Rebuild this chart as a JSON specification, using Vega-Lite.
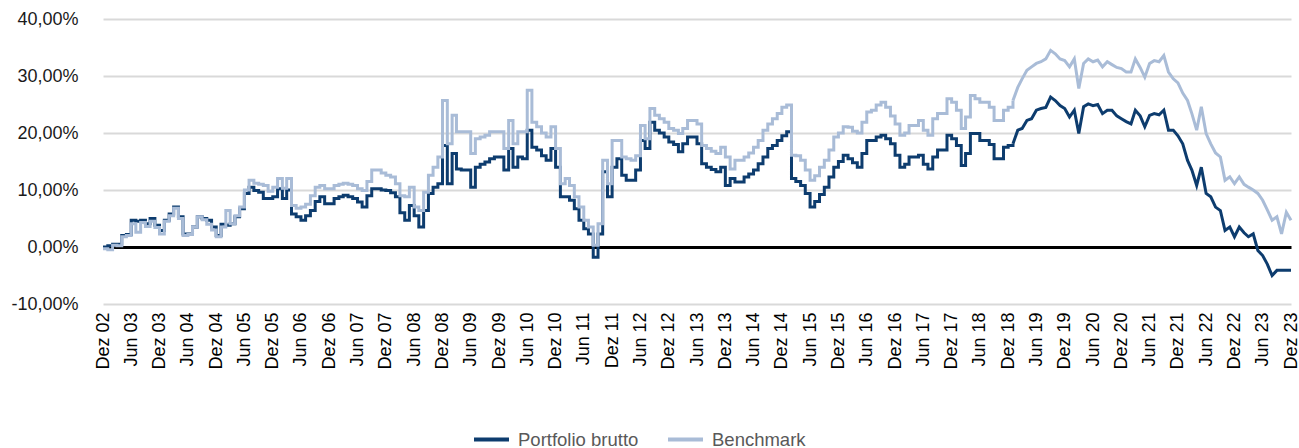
{
"$schema":"https://vega.github.io/schema/vega-lite/v6.json",
"width":1188,"height":285,
"autosize":{"type":"none"},
"padding":{"left":103,"top":19,"right":8,"bottom":144},
"background":"white",
"config":{"view":{"stroke":null},"font":"Liberation Sans","axis":{"labelOverlap":false}},
"data":{"format":{"parse":{"d":"date"}},"values":[
{"d":"2002-12-01","Portfolio brutto":0,"Benchmark":-0.3},
{"d":"2003-01-01","Portfolio brutto":0.2,"Benchmark":-0.5},
{"d":"2003-02-01","Portfolio brutto":0.5,"Benchmark":0.3},
{"d":"2003-03-01","Portfolio brutto":0.5,"Benchmark":0.2},
{"d":"2003-04-01","Portfolio brutto":2.0,"Benchmark":1.8},
{"d":"2003-05-01","Portfolio brutto":2.2,"Benchmark":2.0},
{"d":"2003-06-01","Portfolio brutto":4.7,"Benchmark":4.1},
{"d":"2003-07-01","Portfolio brutto":4.5,"Benchmark":2.6},
{"d":"2003-08-01","Portfolio brutto":4.7,"Benchmark":4.3},
{"d":"2003-09-01","Portfolio brutto":4.1,"Benchmark":3.6},
{"d":"2003-10-01","Portfolio brutto":5.0,"Benchmark":4.5},
{"d":"2003-11-01","Portfolio brutto":3.8,"Benchmark":3.4},
{"d":"2003-12-01","Portfolio brutto":2.9,"Benchmark":2.3},
{"d":"2004-01-01","Portfolio brutto":4.7,"Benchmark":4.5},
{"d":"2004-02-01","Portfolio brutto":5.8,"Benchmark":5.5},
{"d":"2004-03-01","Portfolio brutto":7.0,"Benchmark":6.8},
{"d":"2004-04-01","Portfolio brutto":5.3,"Benchmark":5.0},
{"d":"2004-05-01","Portfolio brutto":2.3,"Benchmark":2.0},
{"d":"2004-06-01","Portfolio brutto":2.3,"Benchmark":2.2},
{"d":"2004-07-01","Portfolio brutto":3.5,"Benchmark":3.5},
{"d":"2004-08-01","Portfolio brutto":5.3,"Benchmark":5.3},
{"d":"2004-09-01","Portfolio brutto":5.0,"Benchmark":4.8},
{"d":"2004-10-01","Portfolio brutto":4.7,"Benchmark":4.0},
{"d":"2004-11-01","Portfolio brutto":3.5,"Benchmark":3.0},
{"d":"2004-12-01","Portfolio brutto":2.0,"Benchmark":1.8},
{"d":"2005-01-01","Portfolio brutto":4.0,"Benchmark":3.5},
{"d":"2005-02-01","Portfolio brutto":3.8,"Benchmark":6.4},
{"d":"2005-03-01","Portfolio brutto":4.1,"Benchmark":4.1},
{"d":"2005-04-01","Portfolio brutto":5.3,"Benchmark":5.5},
{"d":"2005-05-01","Portfolio brutto":6.7,"Benchmark":7.0},
{"d":"2005-06-01","Portfolio brutto":9.4,"Benchmark":10.0},
{"d":"2005-07-01","Portfolio brutto":10.5,"Benchmark":11.7},
{"d":"2005-08-01","Portfolio brutto":9.9,"Benchmark":11.2},
{"d":"2005-09-01","Portfolio brutto":9.6,"Benchmark":11.0},
{"d":"2005-10-01","Portfolio brutto":8.5,"Benchmark":10.8},
{"d":"2005-11-01","Portfolio brutto":8.5,"Benchmark":9.8},
{"d":"2005-12-01","Portfolio brutto":8.8,"Benchmark":10.5},
{"d":"2006-01-01","Portfolio brutto":10.2,"Benchmark":12.0},
{"d":"2006-02-01","Portfolio brutto":8.5,"Benchmark":10.3},
{"d":"2006-03-01","Portfolio brutto":10.0,"Benchmark":12.0},
{"d":"2006-04-01","Portfolio brutto":5.8,"Benchmark":7.3},
{"d":"2006-05-01","Portfolio brutto":5.3,"Benchmark":6.8},
{"d":"2006-06-01","Portfolio brutto":4.7,"Benchmark":7.0},
{"d":"2006-07-01","Portfolio brutto":5.5,"Benchmark":7.5},
{"d":"2006-08-01","Portfolio brutto":6.4,"Benchmark":9.0},
{"d":"2006-09-01","Portfolio brutto":8.0,"Benchmark":10.5},
{"d":"2006-10-01","Portfolio brutto":8.8,"Benchmark":10.8},
{"d":"2006-11-01","Portfolio brutto":7.6,"Benchmark":10.2},
{"d":"2006-12-01","Portfolio brutto":7.6,"Benchmark":10.2},
{"d":"2007-01-01","Portfolio brutto":8.5,"Benchmark":10.8},
{"d":"2007-02-01","Portfolio brutto":8.8,"Benchmark":11.0},
{"d":"2007-03-01","Portfolio brutto":9.1,"Benchmark":11.2},
{"d":"2007-04-01","Portfolio brutto":8.8,"Benchmark":11.0},
{"d":"2007-05-01","Portfolio brutto":8.5,"Benchmark":10.8},
{"d":"2007-06-01","Portfolio brutto":7.9,"Benchmark":10.2},
{"d":"2007-07-01","Portfolio brutto":7.0,"Benchmark":9.9},
{"d":"2007-08-01","Portfolio brutto":9.0,"Benchmark":11.5},
{"d":"2007-09-01","Portfolio brutto":10.2,"Benchmark":13.5},
{"d":"2007-10-01","Portfolio brutto":10.2,"Benchmark":13.5},
{"d":"2007-11-01","Portfolio brutto":10.0,"Benchmark":13.0},
{"d":"2007-12-01","Portfolio brutto":9.9,"Benchmark":12.6},
{"d":"2008-01-01","Portfolio brutto":9.5,"Benchmark":12.3},
{"d":"2008-02-01","Portfolio brutto":8.8,"Benchmark":11.1},
{"d":"2008-03-01","Portfolio brutto":6.0,"Benchmark":9.0},
{"d":"2008-04-01","Portfolio brutto":4.7,"Benchmark":8.8},
{"d":"2008-05-01","Portfolio brutto":7.3,"Benchmark":10.5},
{"d":"2008-06-01","Portfolio brutto":5.5,"Benchmark":7.0},
{"d":"2008-07-01","Portfolio brutto":3.5,"Benchmark":6.4},
{"d":"2008-08-01","Portfolio brutto":6.4,"Benchmark":9.6},
{"d":"2008-09-01","Portfolio brutto":9.4,"Benchmark":12.6},
{"d":"2008-10-01","Portfolio brutto":10.5,"Benchmark":14.0},
{"d":"2008-11-01","Portfolio brutto":11.1,"Benchmark":15.8},
{"d":"2008-12-01","Portfolio brutto":17.8,"Benchmark":25.7},
{"d":"2009-01-01","Portfolio brutto":11.1,"Benchmark":18.1},
{"d":"2009-02-01","Portfolio brutto":16.4,"Benchmark":23.1},
{"d":"2009-03-01","Portfolio brutto":13.7,"Benchmark":20.2},
{"d":"2009-04-01","Portfolio brutto":13.5,"Benchmark":20.2},
{"d":"2009-05-01","Portfolio brutto":13.5,"Benchmark":20.2},
{"d":"2009-06-01","Portfolio brutto":10.5,"Benchmark":16.4},
{"d":"2009-07-01","Portfolio brutto":14.0,"Benchmark":19.0},
{"d":"2009-08-01","Portfolio brutto":14.5,"Benchmark":19.3},
{"d":"2009-09-01","Portfolio brutto":14.9,"Benchmark":19.6},
{"d":"2009-10-01","Portfolio brutto":15.5,"Benchmark":20.2},
{"d":"2009-11-01","Portfolio brutto":15.8,"Benchmark":20.2},
{"d":"2009-12-01","Portfolio brutto":15.8,"Benchmark":20.2},
{"d":"2010-01-01","Portfolio brutto":13.5,"Benchmark":17.3},
{"d":"2010-02-01","Portfolio brutto":17.3,"Benchmark":22.2},
{"d":"2010-03-01","Portfolio brutto":14.0,"Benchmark":18.1},
{"d":"2010-04-01","Portfolio brutto":15.8,"Benchmark":20.2},
{"d":"2010-05-01","Portfolio brutto":15.5,"Benchmark":20.2},
{"d":"2010-06-01","Portfolio brutto":20.5,"Benchmark":27.5},
{"d":"2010-07-01","Portfolio brutto":17.5,"Benchmark":21.9},
{"d":"2010-08-01","Portfolio brutto":17.0,"Benchmark":21.1},
{"d":"2010-09-01","Portfolio brutto":16.0,"Benchmark":20.0},
{"d":"2010-10-01","Portfolio brutto":15.2,"Benchmark":19.3},
{"d":"2010-11-01","Portfolio brutto":17.3,"Benchmark":21.1},
{"d":"2010-12-01","Portfolio brutto":14.0,"Benchmark":17.3},
{"d":"2011-01-01","Portfolio brutto":8.8,"Benchmark":11.1},
{"d":"2011-02-01","Portfolio brutto":8.8,"Benchmark":12.0},
{"d":"2011-03-01","Portfolio brutto":8.2,"Benchmark":10.8},
{"d":"2011-04-01","Portfolio brutto":6.7,"Benchmark":8.8},
{"d":"2011-05-01","Portfolio brutto":4.7,"Benchmark":7.0},
{"d":"2011-06-01","Portfolio brutto":3.2,"Benchmark":4.7},
{"d":"2011-07-01","Portfolio brutto":2.3,"Benchmark":3.5},
{"d":"2011-08-01","Portfolio brutto":-1.8,"Benchmark":0.3},
{"d":"2011-09-01","Portfolio brutto":2.3,"Benchmark":4.1},
{"d":"2011-10-01","Portfolio brutto":13.2,"Benchmark":15.2},
{"d":"2011-11-01","Portfolio brutto":8.8,"Benchmark":11.1},
{"d":"2011-12-01","Portfolio brutto":14.0,"Benchmark":18.7},
{"d":"2012-01-01","Portfolio brutto":15.5,"Benchmark":18.7},
{"d":"2012-02-01","Portfolio brutto":12.6,"Benchmark":15.8},
{"d":"2012-03-01","Portfolio brutto":11.7,"Benchmark":15.5},
{"d":"2012-04-01","Portfolio brutto":11.7,"Benchmark":15.2},
{"d":"2012-05-01","Portfolio brutto":13.5,"Benchmark":16.0},
{"d":"2012-06-01","Portfolio brutto":18.7,"Benchmark":21.3},
{"d":"2012-07-01","Portfolio brutto":17.3,"Benchmark":19.0},
{"d":"2012-08-01","Portfolio brutto":21.9,"Benchmark":24.3},
{"d":"2012-09-01","Portfolio brutto":20.5,"Benchmark":23.1},
{"d":"2012-10-01","Portfolio brutto":20.0,"Benchmark":22.5},
{"d":"2012-11-01","Portfolio brutto":19.3,"Benchmark":21.9},
{"d":"2012-12-01","Portfolio brutto":18.4,"Benchmark":20.8},
{"d":"2013-01-01","Portfolio brutto":18.0,"Benchmark":20.5},
{"d":"2013-02-01","Portfolio brutto":16.7,"Benchmark":19.9},
{"d":"2013-03-01","Portfolio brutto":18.1,"Benchmark":20.8},
{"d":"2013-04-01","Portfolio brutto":19.3,"Benchmark":22.2},
{"d":"2013-05-01","Portfolio brutto":19.3,"Benchmark":22.2},
{"d":"2013-06-01","Portfolio brutto":18.1,"Benchmark":21.6},
{"d":"2013-07-01","Portfolio brutto":14.6,"Benchmark":17.8},
{"d":"2013-08-01","Portfolio brutto":14.0,"Benchmark":17.3},
{"d":"2013-09-01","Portfolio brutto":13.6,"Benchmark":16.8},
{"d":"2013-10-01","Portfolio brutto":13.2,"Benchmark":16.4},
{"d":"2013-11-01","Portfolio brutto":14.0,"Benchmark":17.5},
{"d":"2013-12-01","Portfolio brutto":10.8,"Benchmark":15.8},
{"d":"2014-01-01","Portfolio brutto":12.0,"Benchmark":13.7},
{"d":"2014-02-01","Portfolio brutto":11.4,"Benchmark":15.2},
{"d":"2014-03-01","Portfolio brutto":11.4,"Benchmark":15.2},
{"d":"2014-04-01","Portfolio brutto":12.3,"Benchmark":15.8},
{"d":"2014-05-01","Portfolio brutto":12.8,"Benchmark":16.5},
{"d":"2014-06-01","Portfolio brutto":13.5,"Benchmark":17.5},
{"d":"2014-07-01","Portfolio brutto":14.6,"Benchmark":18.7},
{"d":"2014-08-01","Portfolio brutto":15.8,"Benchmark":20.5},
{"d":"2014-09-01","Portfolio brutto":17.3,"Benchmark":21.6},
{"d":"2014-10-01","Portfolio brutto":17.8,"Benchmark":22.5},
{"d":"2014-11-01","Portfolio brutto":18.7,"Benchmark":23.4},
{"d":"2014-12-01","Portfolio brutto":19.5,"Benchmark":24.5},
{"d":"2015-01-01","Portfolio brutto":20.2,"Benchmark":24.9},
{"d":"2015-02-01","Portfolio brutto":12.0,"Benchmark":16.1},
{"d":"2015-03-01","Portfolio brutto":11.5,"Benchmark":16.0},
{"d":"2015-04-01","Portfolio brutto":10.8,"Benchmark":15.2},
{"d":"2015-05-01","Portfolio brutto":9.4,"Benchmark":13.5},
{"d":"2015-06-01","Portfolio brutto":7.0,"Benchmark":11.7},
{"d":"2015-07-01","Portfolio brutto":8.0,"Benchmark":12.5},
{"d":"2015-08-01","Portfolio brutto":9.2,"Benchmark":14.0},
{"d":"2015-09-01","Portfolio brutto":10.5,"Benchmark":15.2},
{"d":"2015-10-01","Portfolio brutto":12.3,"Benchmark":17.0},
{"d":"2015-11-01","Portfolio brutto":14.0,"Benchmark":19.3},
{"d":"2015-12-01","Portfolio brutto":15.0,"Benchmark":20.0},
{"d":"2016-01-01","Portfolio brutto":16.1,"Benchmark":21.1},
{"d":"2016-02-01","Portfolio brutto":15.5,"Benchmark":21.0},
{"d":"2016-03-01","Portfolio brutto":14.8,"Benchmark":20.3},
{"d":"2016-04-01","Portfolio brutto":14.0,"Benchmark":20.0},
{"d":"2016-05-01","Portfolio brutto":16.4,"Benchmark":21.9},
{"d":"2016-06-01","Portfolio brutto":18.7,"Benchmark":23.7},
{"d":"2016-07-01","Portfolio brutto":18.7,"Benchmark":24.0},
{"d":"2016-08-01","Portfolio brutto":19.3,"Benchmark":24.9},
{"d":"2016-09-01","Portfolio brutto":19.6,"Benchmark":25.4},
{"d":"2016-10-01","Portfolio brutto":19.0,"Benchmark":24.5},
{"d":"2016-11-01","Portfolio brutto":18.1,"Benchmark":23.0},
{"d":"2016-12-01","Portfolio brutto":16.1,"Benchmark":21.6},
{"d":"2017-01-01","Portfolio brutto":14.0,"Benchmark":19.6},
{"d":"2017-02-01","Portfolio brutto":14.5,"Benchmark":20.0},
{"d":"2017-03-01","Portfolio brutto":15.8,"Benchmark":21.3},
{"d":"2017-04-01","Portfolio brutto":15.8,"Benchmark":21.3},
{"d":"2017-05-01","Portfolio brutto":16.1,"Benchmark":22.2},
{"d":"2017-06-01","Portfolio brutto":14.5,"Benchmark":20.5},
{"d":"2017-07-01","Portfolio brutto":13.7,"Benchmark":19.6},
{"d":"2017-08-01","Portfolio brutto":15.8,"Benchmark":22.5},
{"d":"2017-09-01","Portfolio brutto":17.0,"Benchmark":23.4},
{"d":"2017-10-01","Portfolio brutto":17.0,"Benchmark":23.4},
{"d":"2017-11-01","Portfolio brutto":19.6,"Benchmark":26.0},
{"d":"2017-12-01","Portfolio brutto":19.0,"Benchmark":25.4},
{"d":"2018-01-01","Portfolio brutto":17.8,"Benchmark":24.0},
{"d":"2018-02-01","Portfolio brutto":14.3,"Benchmark":20.8},
{"d":"2018-03-01","Portfolio brutto":16.4,"Benchmark":22.8},
{"d":"2018-04-01","Portfolio brutto":19.9,"Benchmark":26.6},
{"d":"2018-05-01","Portfolio brutto":19.9,"Benchmark":26.0},
{"d":"2018-06-01","Portfolio brutto":18.7,"Benchmark":25.4},
{"d":"2018-07-01","Portfolio brutto":18.7,"Benchmark":25.4},
{"d":"2018-08-01","Portfolio brutto":18.0,"Benchmark":24.5},
{"d":"2018-09-01","Portfolio brutto":15.5,"Benchmark":22.2},
{"d":"2018-10-01","Portfolio brutto":15.5,"Benchmark":22.2},
{"d":"2018-11-01","Portfolio brutto":17.5,"Benchmark":24.0},
{"d":"2018-12-01","Portfolio brutto":17.8,"Benchmark":24.5},
{"d":"2019-01-01","Portfolio brutto":18.1,"Benchmark":25.7},
{"d":"2019-02-01","Portfolio brutto":20.5,"Benchmark":28.0},
{"d":"2019-03-01","Portfolio brutto":20.8,"Benchmark":29.5},
{"d":"2019-04-01","Portfolio brutto":22.2,"Benchmark":31.0},
{"d":"2019-05-01","Portfolio brutto":22.5,"Benchmark":31.6},
{"d":"2019-06-01","Portfolio brutto":24.0,"Benchmark":32.2},
{"d":"2019-07-01","Portfolio brutto":24.3,"Benchmark":32.5},
{"d":"2019-08-01","Portfolio brutto":24.5,"Benchmark":33.0},
{"d":"2019-09-01","Portfolio brutto":26.3,"Benchmark":34.5},
{"d":"2019-10-01","Portfolio brutto":25.7,"Benchmark":33.9},
{"d":"2019-11-01","Portfolio brutto":24.8,"Benchmark":33.0},
{"d":"2019-12-01","Portfolio brutto":24.3,"Benchmark":32.7},
{"d":"2020-01-01","Portfolio brutto":22.8,"Benchmark":31.6},
{"d":"2020-02-01","Portfolio brutto":24.0,"Benchmark":33.0},
{"d":"2020-03-01","Portfolio brutto":19.9,"Benchmark":27.8},
{"d":"2020-04-01","Portfolio brutto":24.6,"Benchmark":32.2},
{"d":"2020-05-01","Portfolio brutto":25.1,"Benchmark":33.0},
{"d":"2020-06-01","Portfolio brutto":24.8,"Benchmark":32.5},
{"d":"2020-07-01","Portfolio brutto":25.0,"Benchmark":32.8},
{"d":"2020-08-01","Portfolio brutto":23.4,"Benchmark":31.6},
{"d":"2020-09-01","Portfolio brutto":24.0,"Benchmark":32.5},
{"d":"2020-10-01","Portfolio brutto":24.0,"Benchmark":32.0},
{"d":"2020-11-01","Portfolio brutto":23.0,"Benchmark":31.5},
{"d":"2020-12-01","Portfolio brutto":22.5,"Benchmark":31.3},
{"d":"2021-01-01","Portfolio brutto":22.0,"Benchmark":30.7},
{"d":"2021-02-01","Portfolio brutto":21.6,"Benchmark":30.7},
{"d":"2021-03-01","Portfolio brutto":24.0,"Benchmark":33.0},
{"d":"2021-04-01","Portfolio brutto":23.0,"Benchmark":31.5},
{"d":"2021-05-01","Portfolio brutto":21.1,"Benchmark":29.8},
{"d":"2021-06-01","Portfolio brutto":23.1,"Benchmark":32.2},
{"d":"2021-07-01","Portfolio brutto":23.4,"Benchmark":32.7},
{"d":"2021-08-01","Portfolio brutto":23.2,"Benchmark":32.5},
{"d":"2021-09-01","Portfolio brutto":24.0,"Benchmark":33.6},
{"d":"2021-10-01","Portfolio brutto":20.5,"Benchmark":30.7},
{"d":"2021-11-01","Portfolio brutto":20.5,"Benchmark":29.5},
{"d":"2021-12-01","Portfolio brutto":19.5,"Benchmark":28.8},
{"d":"2022-01-01","Portfolio brutto":18.1,"Benchmark":27.0},
{"d":"2022-02-01","Portfolio brutto":15.2,"Benchmark":25.7},
{"d":"2022-03-01","Portfolio brutto":13.5,"Benchmark":23.4},
{"d":"2022-04-01","Portfolio brutto":10.8,"Benchmark":20.5},
{"d":"2022-05-01","Portfolio brutto":14.0,"Benchmark":24.6},
{"d":"2022-06-01","Portfolio brutto":9.4,"Benchmark":19.9},
{"d":"2022-07-01","Portfolio brutto":8.8,"Benchmark":18.1},
{"d":"2022-08-01","Portfolio brutto":7.0,"Benchmark":16.5},
{"d":"2022-09-01","Portfolio brutto":6.4,"Benchmark":15.8},
{"d":"2022-10-01","Portfolio brutto":2.9,"Benchmark":11.7},
{"d":"2022-11-01","Portfolio brutto":3.5,"Benchmark":12.3},
{"d":"2022-12-01","Portfolio brutto":1.8,"Benchmark":11.1},
{"d":"2023-01-01","Portfolio brutto":3.5,"Benchmark":12.3},
{"d":"2023-02-01","Portfolio brutto":2.5,"Benchmark":11.0},
{"d":"2023-03-01","Portfolio brutto":1.8,"Benchmark":10.5},
{"d":"2023-04-01","Portfolio brutto":2.3,"Benchmark":10.0},
{"d":"2023-05-01","Portfolio brutto":-0.6,"Benchmark":9.4},
{"d":"2023-06-01","Portfolio brutto":-1.5,"Benchmark":8.2},
{"d":"2023-07-01","Portfolio brutto":-3.0,"Benchmark":6.5},
{"d":"2023-08-01","Portfolio brutto":-5.0,"Benchmark":4.7},
{"d":"2023-09-01","Portfolio brutto":-4.1,"Benchmark":5.3},
{"d":"2023-10-01","Portfolio brutto":-4.1,"Benchmark":2.3},
{"d":"2023-11-01","Portfolio brutto":-4.1,"Benchmark":6.1},
{"d":"2023-12-01","Portfolio brutto":-4.1,"Benchmark":4.7}
]},
"transform":[{"fold":["Portfolio brutto","Benchmark"],"as":["s","v"]}],
"encoding":{
  "x":{"field":"d","type":"temporal","title":null,
   "scale":{"type":"utc","domain":[{"year":2002,"month":12,"date":1,"utc":true},{"year":2023,"month":12,"date":1,"utc":true}]},
   "axis":{"domain":false,"ticks":false,"grid":false,"labelAngle":-90,"labelFontSize":18,"labelColor":"#000000","labelPadding":8,"labelOverlap":false,"labelFlush":false,"labelSeparation":0,
    "labelExpr":"(utcmonth(datum.value)==11 ? 'Dez ' : 'Jun ') + utcFormat(datum.value, '%y')",
    "values":[
     {"year":2002,"month":12,"date":1,"utc":true},{"year":2003,"month":6,"date":1,"utc":true},
     {"year":2003,"month":12,"date":1,"utc":true},{"year":2004,"month":6,"date":1,"utc":true},
     {"year":2004,"month":12,"date":1,"utc":true},{"year":2005,"month":6,"date":1,"utc":true},
     {"year":2005,"month":12,"date":1,"utc":true},{"year":2006,"month":6,"date":1,"utc":true},
     {"year":2006,"month":12,"date":1,"utc":true},{"year":2007,"month":6,"date":1,"utc":true},
     {"year":2007,"month":12,"date":1,"utc":true},{"year":2008,"month":6,"date":1,"utc":true},
     {"year":2008,"month":12,"date":1,"utc":true},{"year":2009,"month":6,"date":1,"utc":true},
     {"year":2009,"month":12,"date":1,"utc":true},{"year":2010,"month":6,"date":1,"utc":true},
     {"year":2010,"month":12,"date":1,"utc":true},{"year":2011,"month":6,"date":1,"utc":true},
     {"year":2011,"month":12,"date":1,"utc":true},{"year":2012,"month":6,"date":1,"utc":true},
     {"year":2012,"month":12,"date":1,"utc":true},{"year":2013,"month":6,"date":1,"utc":true},
     {"year":2013,"month":12,"date":1,"utc":true},{"year":2014,"month":6,"date":1,"utc":true},
     {"year":2014,"month":12,"date":1,"utc":true},{"year":2015,"month":6,"date":1,"utc":true},
     {"year":2015,"month":12,"date":1,"utc":true},{"year":2016,"month":6,"date":1,"utc":true},
     {"year":2016,"month":12,"date":1,"utc":true},{"year":2017,"month":6,"date":1,"utc":true},
     {"year":2017,"month":12,"date":1,"utc":true},{"year":2018,"month":6,"date":1,"utc":true},
     {"year":2018,"month":12,"date":1,"utc":true},{"year":2019,"month":6,"date":1,"utc":true},
     {"year":2019,"month":12,"date":1,"utc":true},{"year":2020,"month":6,"date":1,"utc":true},
     {"year":2020,"month":12,"date":1,"utc":true},{"year":2021,"month":6,"date":1,"utc":true},
     {"year":2021,"month":12,"date":1,"utc":true},{"year":2022,"month":6,"date":1,"utc":true},
     {"year":2022,"month":12,"date":1,"utc":true},{"year":2023,"month":6,"date":1,"utc":true},
     {"year":2023,"month":12,"date":1,"utc":true}]}},
  "y":{"field":"v","type":"quantitative","title":null,
   "scale":{"domain":[-10,40],"nice":false,"zero":false},
   "axis":{"values":[-10,0,10,20,30,40],"domain":false,"ticks":false,"grid":true,
    "gridColor":{"condition":{"test":"datum.value === 0","value":"#000000"},"value":"#d9d9d9"},
    "gridWidth":{"condition":{"test":"datum.value === 0","value":3},"value":2},
    "labelFontSize":18,"labelColor":"#1a1a1a","labelPadding":25,
    "labelExpr":"(datum.value<0?'-':'') + replace(format(abs(datum.value),'.2f'),'.',',') + '%'"}},
  "color":{"field":"s","type":"nominal",
   "scale":{"domain":["Portfolio brutto","Benchmark"],"range":["#0d3c6e","#a9bcd7"]},
   "legend":{"orient":"none","legendX":369,"legendY":401,"direction":"horizontal","title":null,"symbolType":"stroke","symbolStrokeWidth":4,"symbolSize":1225,"labelFontSize":18.5,"labelColor":"#595959","columnPadding":21,"labelOffset":7,"padding":0}}
},
"layer":[
 {"transform":[{"filter":{"field":"d","lte":{"year":2019,"month":1,"date":1,"utc":true}}}],
  "mark":{"type":"line","interpolate":"step-after","strokeWidth":3}},
 {"transform":[{"filter":{"field":"d","gte":{"year":2019,"month":1,"date":1,"utc":true}}}],
  "mark":{"type":"line","strokeWidth":3}}
]
}
